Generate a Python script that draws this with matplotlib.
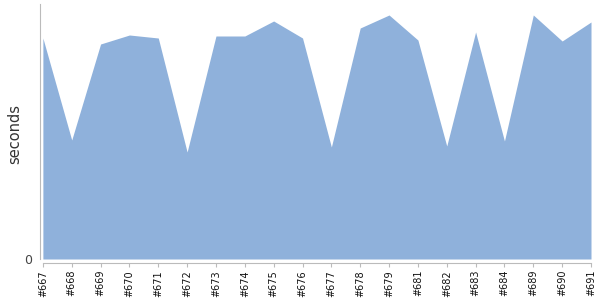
import numpy as np
import matplotlib.pyplot as plt

builds = ["#667", "#668", "#669", "#670", "#671", "#672", "#673", "#674", "#675", "#676",
          "#677", "#678", "#679", "#681", "#682", "#683", "#684", "#689", "#690", "#691"]
seconds = [221, 119, 215, 224, 221, 107, 223, 223, 238, 221,
           112, 231, 244, 219, 113, 227, 118, 244, 218, 237]

fig = plt.figure(figsize=(6, 3), dpi=100)
ax = fig.add_axes([40 / 600, 37 / 300, 551 / 600, 259 / 300])

x = np.arange(len(builds))
ax.fill_between(x, seconds, 0, color="#8fb1db", linewidth=0)

ax.set_xlim(-0.1, len(builds) - 1)
ax.set_ylim(-4, 255)

ax.spines["top"].set_visible(False)
ax.spines["right"].set_visible(False)
ax.spines["left"].set_color("#bbbbbb")
ax.spines["bottom"].set_color("#bbbbbb")
ax.spines["left"].set_bounds(0, 255)
ax.spines["bottom"].set_bounds(0, len(builds) - 1)

ax.set_xticks(x)
ax.set_xticklabels(builds, rotation=90, fontsize=7, color="#111111")
ax.tick_params(axis="x", length=3, color="#bbbbbb", pad=2)
ax.set_yticks([0])
ax.set_yticklabels(["0"], fontsize=9, color="#444444")
ax.tick_params(axis="y", length=0, pad=6)
ax.set_ylabel("seconds", fontsize=10.5, color="#333333", labelpad=1)

fig.savefig("out.png", dpi=100)
